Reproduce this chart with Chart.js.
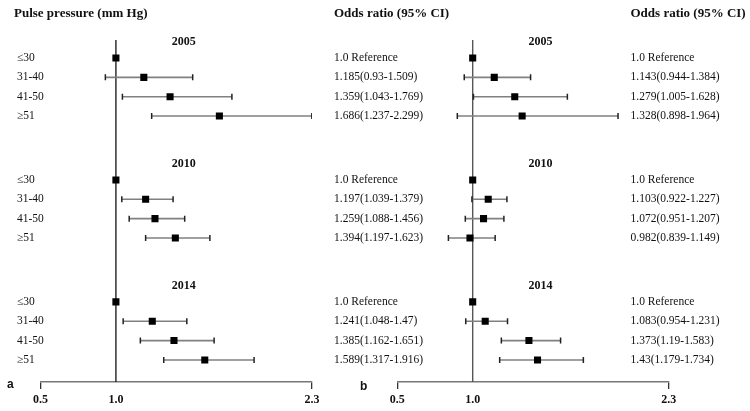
<!DOCTYPE html>
<html>
<head>
<meta charset="utf-8">
<script src="https://cdn.jsdelivr.net/npm/chart.js@4.4.0/dist/chart.umd.min.js"></script>
<style>
  html, body { margin: 0; padding: 0; background: #fff; }
  #wrap { position: relative; width: 750px; height: 411px; }
  #wrap canvas { position: absolute; left: 0; top: 0; }
</style>
</head>
<body>
<div id="wrap">
  <canvas id="chartA" width="750" height="411"></canvas>
  <canvas id="chartB" width="750" height="411"></canvas>
</div>
<script>
// survey years and pulse pressure groups (mm Hg)
const years = ['2005', '2010', '2014'];
const groups = ['\u226430', '31-40', '41-50', '\u226551'];
const tickValues = [0.5, 1.0, 2.3];

// panel a: odds ratio with 95% CI, rows = year x group
const orA   = [1.0, 1.185, 1.359, 1.686, 1.0, 1.197, 1.259, 1.394, 1.0, 1.241, 1.385, 1.589];
const lowA  = [null, 0.93, 1.043, 1.237, null, 1.039, 1.088, 1.197, null, 1.048, 1.162, 1.317];
const highA = [null, 1.509, 1.769, 2.299, null, 1.379, 1.456, 1.623, null, 1.47, 1.651, 1.916];

// panel b
const orB   = [1.0, 1.143, 1.279, 1.328, 1.0, 1.103, 1.072, 0.982, 1.0, 1.083, 1.373, 1.43];
const lowB  = [null, 0.944, 1.005, 0.898, null, 0.922, 0.951, 0.839, null, 0.954, 1.19, 1.179];
const highB = [null, 1.384, 1.628, 1.964, null, 1.227, 1.207, 1.149, null, 1.231, 1.583, 1.734];
// the 2010 31-40 whisker in the figure starts near 1.0, not at the printed 0.922
const plotLowB = [null, 0.944, 1.005, 0.898, null, 0.995, 0.951, 0.839, null, 0.954, 1.19, 1.179];

const SERIF = "'Liberation Serif', 'Times New Roman', serif";
const SANS = "'Liberation Sans', Arial, sans-serif";
const GROUP_STEP = 6.3;

function rowPos(k) {
    return Math.floor(k / groups.length) * GROUP_STEP + (k % groups.length);
}

function ciLabel(or, low, high, k) {
    if (low[k] === null) return '1.0 Reference';
    return `${or[k]}(${low[k]}-${high[k]})`;
}

function buildDatasets(or, low, high) {
    const sets = [{
        data: or.map((v, k) => ({ x: v, y: rowPos(k) })),
        pointStyle: 'rect',
        pointRadius: 5,
        pointBackgroundColor: '#000',
        pointBorderWidth: 0,
        showLine: false
    }];
    low.forEach((lo, k) => {
        if (lo === null) return;
        sets.push({
            data: [{ x: lo, y: rowPos(k) }, { x: high[k], y: rowPos(k) }],
            showLine: true,
            borderColor: '#808080',
            borderWidth: 1.6,
            pointStyle: 'line',
            pointRotation: 90,
            pointRadius: 3,
            pointBorderColor: '#222',
            pointBorderWidth: 1.5
        });
    });
    return sets;
}

function forestText(opts) {
    return {
        id: 'forestText',
        beforeDatasetsDraw(chart) {
            const { ctx, chartArea, scales } = chart;
            const x1 = scales.x.getPixelForValue(1.0);
            ctx.save();
            ctx.strokeStyle = opts.refColor;
            ctx.lineWidth = 1.4;
            ctx.beginPath();
            ctx.moveTo(x1, chartArea.top);
            ctx.lineTo(x1, chartArea.bottom);
            ctx.stroke();
            ctx.restore();
        },
        afterDraw(chart) {
            const { ctx, scales } = chart;
            const xs = scales.x, ys = scales.y;
            ctx.save();
            ctx.fillStyle = '#111';
            ctx.textBaseline = 'middle';
            ctx.textAlign = 'left';

            ctx.font = `bold 13px ${SERIF}`;
            if (opts.leftTitle) ctx.fillText(opts.leftTitle, 14, 14);
            ctx.fillText('Odds ratio (95% CI)', opts.textX, 14);

            // year headers
            ctx.font = `bold 12px ${SERIF}`;
            ctx.textAlign = 'center';
            years.forEach((yr, g) => {
                ctx.fillText(yr, xs.getPixelForValue(1.45), ys.getPixelForValue(g * GROUP_STEP - 0.85));
            });

            // row labels and OR text
            ctx.textAlign = 'left';
            ctx.font = `11.5px ${SERIF}`;
            opts.or.forEach((v, k) => {
                const y = ys.getPixelForValue(rowPos(k));
                if (opts.rowLabels) ctx.fillText(groups[k % groups.length], 17, y);
                ctx.fillText(ciLabel(opts.or, opts.low, opts.high, k), opts.textX, y);
            });

            ctx.font = `bold 12px ${SANS}`;
            ctx.fillText(opts.letter, opts.letterX, opts.letterY);
            ctx.restore();
        }
    };
}

function makeChart(id, datasets, padding, textOpts) {
    const ctx = document.getElementById(id).getContext('2d');
    return new Chart(ctx, {
        type: 'scatter',
        data: { datasets: datasets },
        options: {
            responsive: false,
            animation: false,
            layout: { padding: padding },
            plugins: { legend: { display: false }, tooltip: { enabled: false } },
            scales: {
                x: {
                    type: 'linear',
                    min: 0.5,
                    max: 2.3,
                    afterBuildTicks: (s) => { s.ticks = tickValues.map(v => ({ value: v })); },
                    ticks: {
                        callback: (v) => Number(v).toFixed(1),
                        font: { family: SERIF, size: 12, weight: 'bold', lineHeight: 1.0 },
                        color: '#111',
                        padding: 5,
                        autoSkip: false,
                        maxRotation: 0
                    },
                    grid: {
                        drawOnChartArea: false,
                        tickLength: 7,
                        lineWidth: 1.3,
                        color: (c) => (c.tick && c.tick.value === 1 ? 'rgba(0,0,0,0)' : '#333')
                    },
                    border: { color: '#777', width: 1.5 }
                },
                y: {
                    type: 'linear',
                    display: false,
                    reverse: true,
                    min: -0.93,
                    max: 16.74
                }
            }
        },
        plugins: [forestText(textOpts)]
    });
}

makeChart('chartA', buildDatasets(orA, lowA, highA),
    { left: 40.5, right: 438, top: 40, bottom: 0 },
    { or: orA, low: lowA, high: highA, textX: 334, rowLabels: true,
      leftTitle: 'Pulse pressure (mm Hg)', refColor: '#222',
      letter: 'a', letterX: 7, letterY: 385 });

makeChart('chartB', buildDatasets(orB, plotLowB, highB),
    { left: 397.3, right: 81.3, top: 40, bottom: 0 },
    { or: orB, low: lowB, high: highB, textX: 630.5, rowLabels: false,
      leftTitle: null, refColor: '#555',
      letter: 'b', letterX: 360, letterY: 387 });
</script>
</body>
</html>
